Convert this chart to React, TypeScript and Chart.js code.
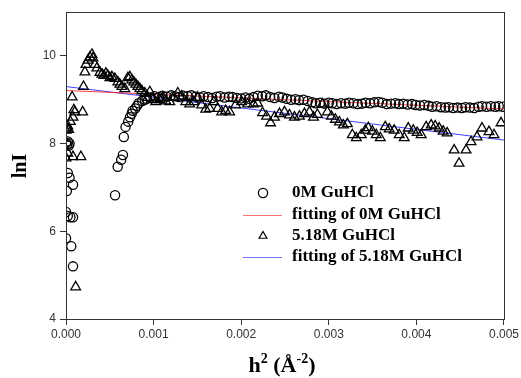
import React, { useEffect, useRef } from "react";
import { Chart, registerables } from "chart.js";
Chart.register(...registerables);

// 0M GuHCl (circles)
const circleX = [
  0.0, 0.00001, 0.00002, 0.00003, 0.00004, 0.00002, 0.00004, 0.00008, 0.00001, 0.0, 0.00002, 0.00005, 0.00008, 0.0, 0.00006, 0.00008,
  0.00056, 0.00059, 0.00063, 0.00065, 0.00066, 0.00068, 0.00071, 0.00073, 0.00075, 0.00076, 0.00079, 0.00081, 0.00083, 0.00087, 0.0009,
  0.00092, 0.00096, 0.00101, 0.00106, 0.0011, 0.00115, 0.0012, 0.00124, 0.00129, 0.00134, 0.00139, 0.00143, 0.00148, 0.00153, 0.00157,
  0.00162, 0.00167, 0.00172, 0.00176, 0.00181, 0.00186, 0.0019, 0.00195, 0.002, 0.00205, 0.00209, 0.00214, 0.00219, 0.00224, 0.00228,
  0.00233, 0.00238, 0.00243, 0.00247, 0.00252, 0.00257, 0.00262, 0.00266, 0.00271, 0.00276, 0.00281, 0.00285, 0.0029, 0.00295, 0.003,
  0.00304, 0.00309, 0.00314, 0.00319, 0.00323, 0.00328, 0.00333, 0.00338, 0.00342, 0.00347, 0.00352, 0.00357, 0.00361, 0.00366, 0.00371,
  0.00376, 0.0038, 0.00385, 0.0039, 0.00395, 0.00399, 0.00404, 0.00409, 0.00414, 0.00418, 0.00423, 0.00428, 0.00433, 0.00437, 0.00442,
  0.00447, 0.00452, 0.00456, 0.00461, 0.00466, 0.00471, 0.00475, 0.0048, 0.00485, 0.0049, 0.00494, 0.00499,
];
const circleY = [
  8.02, 7.97, 8.05, 7.95, 8.0, 7.33, 7.22, 7.06, 6.92, 6.44, 6.35, 6.32, 6.32, 5.84, 5.66, 5.2,
  6.82, 7.47, 7.63, 7.74, 8.15, 8.38, 8.5, 8.6, 8.68, 8.75, 8.8, 8.86, 8.92, 8.97, 9.0,
  9.02, 9.05, 9.08, 9.06, 9.09, 9.07, 9.1, 9.08, 9.06, 9.09, 9.08, 9.1, 9.07, 9.05, 9.08,
  9.06, 9.04, 9.07, 9.08, 9.05, 9.07, 9.06, 9.04, 9.03, 9.05, 9.02, 9.06, 9.09, 9.08, 9.1,
  9.06, 9.04, 9.07, 9.05, 9.02, 9.0, 9.01, 8.99, 9.0, 8.97, 8.94, 8.92, 8.93, 8.91, 8.93,
  8.92, 8.9, 8.92, 8.91, 8.93, 8.92, 8.9, 8.91, 8.93, 8.92, 8.94, 8.95, 8.93, 8.9, 8.91,
  8.92, 8.9, 8.91, 8.89, 8.9, 8.88, 8.87, 8.88, 8.86, 8.84, 8.85, 8.83, 8.82, 8.83, 8.81,
  8.82, 8.81, 8.83, 8.82, 8.81, 8.84, 8.85, 8.84, 8.85, 8.84, 8.85, 8.84,
];

// 5.18M GuHCl (triangles)
const triX = [
  0.0, 0.00001, 0.00002, 0.00003, 0.0, 0.00002, 0.00008, 0.00017, 0.00005, 0.00008, 0.0001, 0.00019, 0.00009, 0.00007, 0.0002, 0.00011,
  0.000216, 0.000228, 0.000251, 0.000273, 0.000296, 0.000308, 0.00033, 0.000353, 0.000387, 0.00041, 0.000433, 0.000456, 0.000478,
  0.000501, 0.000524, 0.000558, 0.000592, 0.000615, 0.000638, 0.000672, 0.000706, 0.000729, 0.000752, 0.000774, 0.000797, 0.00082,
  0.000843, 0.000866, 0.0009, 0.000934, 0.000957, 0.000991, 0.001025, 0.001071, 0.001105, 0.001139, 0.001185, 0.00123, 0.001276,
  0.001321, 0.001367, 0.001412, 0.001458, 0.001503, 0.001549, 0.001595, 0.00164, 0.001686, 0.001731, 0.001777, 0.001822, 0.001868,
  0.001936, 0.002005, 0.002073, 0.002141, 0.002187, 0.002244, 0.002289, 0.002335, 0.00238, 0.002437, 0.002494, 0.002551, 0.002608,
  0.002665, 0.002722, 0.002779, 0.002825, 0.00287, 0.002927, 0.002984, 0.00303, 0.003075, 0.003121, 0.003166, 0.003212, 0.003269,
  0.003314, 0.003371, 0.003417, 0.003451, 0.003497, 0.003542, 0.003588, 0.003645, 0.00369, 0.003747, 0.003804, 0.003861, 0.003907,
  0.003964, 0.004009, 0.004055, 0.004112, 0.004169, 0.004214, 0.00426, 0.004305, 0.004351, 0.004431, 0.004487, 0.004567, 0.004624,
  0.004692, 0.004749, 0.004829, 0.004886, 0.004966,
];
const triY = [
  8.3, 8.35, 8.4, 8.32, 7.67, 7.78, 7.7, 7.7, 8.5, 8.6, 8.72, 8.72, 8.77, 9.06, 9.3, 4.73,
  9.63, 9.8, 9.9, 9.97, 10.03, 9.95, 9.8, 9.72, 9.62, 9.58, 9.55, 9.6, 9.55,
  9.5, 9.52, 9.48, 9.4, 9.35, 9.3, 9.25, 9.5, 9.52, 9.45, 9.4, 9.35, 9.3,
  9.25, 9.2, 9.15, 9.05, 9.18, 9.0, 8.95, 9.0, 9.05, 8.97, 8.95, 9.05, 9.15,
  9.08, 8.95, 8.9, 8.95, 9.05, 8.88, 8.78, 8.8, 8.95, 8.8, 8.72, 8.75, 8.72,
  8.88, 8.95, 8.9, 8.9, 8.92, 8.7, 8.62, 8.47, 8.6, 8.68, 8.72, 8.65, 8.6,
  8.62, 8.68, 8.72, 8.6, 8.66, 8.9, 8.72, 8.62, 8.55, 8.49, 8.42, 8.45, 8.2,
  8.13, 8.2, 8.3, 8.36, 8.28, 8.2, 8.13, 8.38, 8.33, 8.3, 8.2, 8.13, 8.35,
  8.3, 8.25, 8.2, 8.38, 8.42, 8.4, 8.35, 8.28, 8.24, 7.85, 7.55, 7.85, 8.04,
  8.15, 8.35, 8.27, 8.2, 8.47,
];

// linear fits
const fit0X = [0, 0.005];
const fit0Y = [9.21, 8.79];
const fit5X = [0, 0.005];
const fit5Y = [9.3, 8.08];

const yTickValues = [4, 6, 8, 10];
const legendLabels = ["0M GuHCl", "fitting of 0M GuHCl", "5.18M GuHCl", "fitting of 5.18M GuHCl"];

const toPts = (xs: number[], ys: number[]) => xs.map((x, i) => ({ x, y: ys[i] }));

const SERIF = "'Liberation Serif', 'Times New Roman', serif";

const decorPlugin = {
  id: "decor",
  afterDraw(chart: any) {
    const { ctx, chartArea } = chart;
    const { left, right, top, bottom } = chartArea;
    ctx.save();
    // frame
    ctx.strokeStyle = "#333";
    ctx.lineWidth = 1;
    ctx.strokeRect(Math.round(left) + 0.5, Math.round(top) + 0.5, Math.round(right - left), Math.round(bottom - top));

    // y title
    ctx.fillStyle = "#000";
    ctx.font = `bold 20px ${SERIF}`;
    ctx.textAlign = "center";
    ctx.textBaseline = "middle";
    ctx.save();
    ctx.translate(21, 166);
    ctx.rotate(-Math.PI / 2);
    ctx.fillText("lnI", 0, 0);
    ctx.restore();

    // x title with superscripts
    const big = `bold 22px ${SERIF}`;
    const small = `bold 14px ${SERIF}`;
    const parts: [string, boolean][] = [["h", false], ["2", true], [" (Å", false], ["-2", true], [")", false]];
    let total = 0;
    for (const [t, sup] of parts) {
      ctx.font = sup ? small : big;
      total += ctx.measureText(t).width;
    }
    let x = 282 - total / 2;
    const base = 372;
    ctx.textAlign = "left";
    ctx.textBaseline = "alphabetic";
    for (const [t, sup] of parts) {
      ctx.font = sup ? small : big;
      ctx.fillText(t, x, sup ? base - 9 : base);
      x += ctx.measureText(t).width;
    }

    // legend
    const rows = [193, 215, 236, 257];
    const mx = 263;
    ctx.font = `bold 17px ${SERIF}`;
    ctx.textBaseline = "middle";
    legendLabels.forEach((label, i) => {
      const y = rows[i];
      ctx.lineWidth = 1;
      if (i === 0) {
        ctx.strokeStyle = "#000";
        ctx.lineWidth = 1.3;
        ctx.beginPath();
        ctx.arc(mx, y, 4.6, 0, Math.PI * 2);
        ctx.stroke();
      } else if (i === 2) {
        ctx.strokeStyle = "#000";
        ctx.lineWidth = 1.2;
        const r = 4.5;
        ctx.beginPath();
        ctx.moveTo(mx, y - r);
        ctx.lineTo(mx + r * 0.866, y + r * 0.5);
        ctx.lineTo(mx - r * 0.866, y + r * 0.5);
        ctx.closePath();
        ctx.stroke();
      } else {
        ctx.strokeStyle = i === 1 ? "#ff7070" : "#7070ff";
        ctx.beginPath();
        ctx.moveTo(243, y + 0.5);
        ctx.lineTo(282, y + 0.5);
        ctx.stroke();
      }
      ctx.fillStyle = "#000";
      ctx.fillText(label, 292, y);
    });
    ctx.restore();
  },
};

export default function App() {
  const ref = useRef<HTMLCanvasElement | null>(null);
  useEffect(() => {
    if (!ref.current) return;
    const tickFont = { family: "'Liberation Sans', Arial, sans-serif", size: 12 };
    const chart = new Chart(ref.current, {
      type: "scatter",
      data: {
        datasets: [
          {
            label: legendLabels[0],
            data: toPts(circleX, circleY),
            pointStyle: "circle",
            pointRadius: 4.6,
            pointBorderColor: "#000",
            pointBackgroundColor: "rgba(0,0,0,0)",
            pointBorderWidth: 1.3,
          },
          {
            label: legendLabels[2],
            data: toPts(triX, triY),
            pointStyle: "triangle",
            pointRadius: 5.6,
            pointBorderColor: "#000",
            pointBackgroundColor: "rgba(0,0,0,0)",
            pointBorderWidth: 1.3,
          },
          {
            label: legendLabels[1],
            data: toPts(fit0X, fit0Y),
            showLine: true,
            borderColor: "rgba(255,30,30,0.85)",
            borderWidth: 1,
            pointRadius: 0,
          },
          {
            label: legendLabels[3],
            data: toPts(fit5X, fit5Y),
            showLine: true,
            borderColor: "rgba(30,30,255,0.85)",
            borderWidth: 1,
            pointRadius: 0,
          },
        ],
      },
      options: {
        responsive: false,
        animation: false,
        devicePixelRatio: 1,
        layout: { padding: { left: 0, right: 16, top: 12, bottom: 0 } },
        plugins: { legend: { display: false }, tooltip: { enabled: false } },
        scales: {
          x: {
            type: "linear",
            min: 0,
            max: 0.005,
            border: { display: false },
            grid: { drawOnChartArea: false, drawTicks: true, tickLength: 6, color: "#333" },
            ticks: {
              stepSize: 0.001,
              color: "#333",
              font: tickFont,
              padding: 2,
              maxRotation: 0,
              callback: (v: any) => Number(v).toFixed(3),
            },
            afterFit: (s: any) => {
              s.height = 59;
            },
          },
          y: {
            type: "linear",
            min: 4,
            max: 11,
            border: { display: false },
            grid: { drawOnChartArea: false, drawTicks: true, tickLength: 6, color: "#333" },
            ticks: { color: "#333", font: tickFont, padding: 4 },
            afterBuildTicks: (s: any) => {
              s.ticks = yTickValues.map((v) => ({ value: v }));
            },
            afterFit: (s: any) => {
              s.width = 66;
            },
          },
        },
      },
      plugins: [decorPlugin],
    });
    return () => chart.destroy();
  }, []);
  return (
    <div style={{ position: "absolute", left: 0, top: 0, width: 521, height: 378, background: "#fff" }}>
      <canvas ref={ref} width={521} height={378} style={{ width: 521, height: 378 }} />
    </div>
  );
}
